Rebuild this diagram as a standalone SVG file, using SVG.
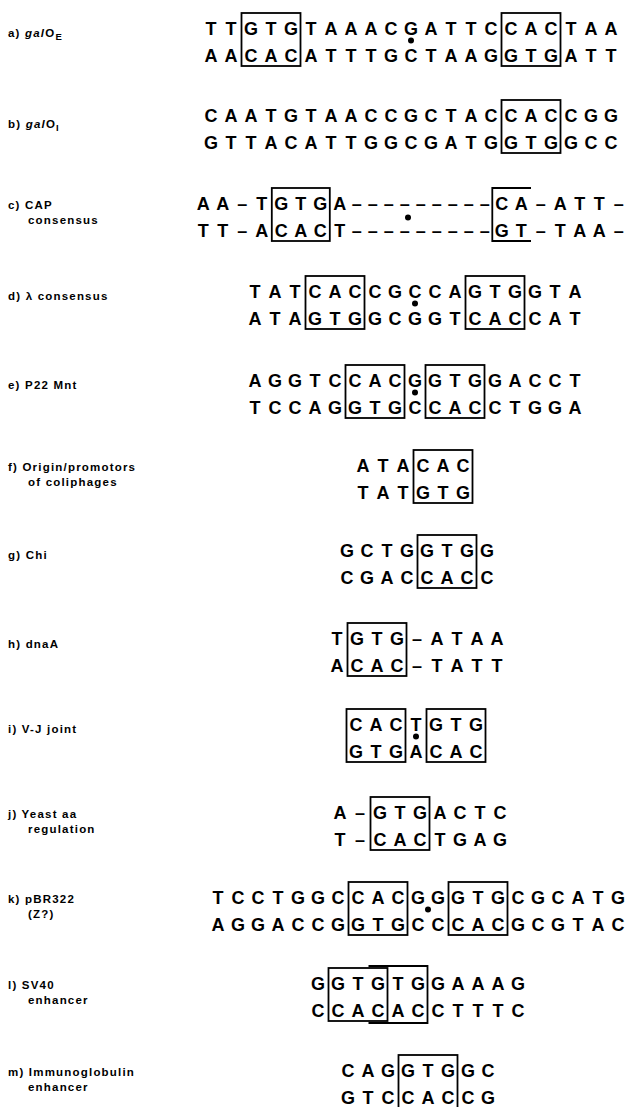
<svg xmlns="http://www.w3.org/2000/svg" width="635" height="1107" viewBox="0 0 635 1107">
<style>
.seq{font-family:"Liberation Sans",Arial,sans-serif;font-weight:bold;font-size:18px;text-anchor:middle;fill:#000}
.lbl{font-family:"Liberation Sans",Arial,sans-serif;font-weight:bold;font-size:11.5px;letter-spacing:1.2px;fill:#000}
.box{fill:none;stroke:#000;stroke-width:1.8}
.dot{fill:#000}
</style>
<rect width="635" height="1107" fill="#fff"/>
<g id="row-a">
<text class="lbl" x="8" y="37">a) <tspan font-style="italic">gal</tspan>O<tspan font-size="9.5" dy="3">E</tspan></text>
<text class="seq" x="211 231 251 271 291 311 331 351 371 391 411 431 451 471 491 511 531 551 571 591 611" y="34.5">TTGTGTAAACGATTCCACTAA</text>
<text class="seq" x="211 231 251 271 291 311 331 351 371 391 411 431 451 471 491 511 531 551 571 591 611" y="61.5">AACACATTTGCTAAGGTGATT</text>
<rect class="box" x="241.5" y="13" width="59" height="53"/>
<rect class="box" x="501.5" y="13" width="59" height="53"/>
<circle class="dot" cx="411" cy="40.5" r="3"/>
</g>
<g id="row-b">
<text class="lbl" x="8" y="128">b) <tspan font-style="italic">gal</tspan>O<tspan font-size="9.5" dy="3">I</tspan></text>
<text class="seq" x="211 231 251 271 291 311 331 351 371 391 411 431 451 471 491 511 531 551 571 591 611" y="121.5">CAATGTAACCGCTACCACCGG</text>
<text class="seq" x="211 231 251 271 291 311 331 351 371 391 411 431 451 471 491 511 531 551 571 591 611" y="148.5">GTTACATTGGCGATGGTGGCC</text>
<rect class="box" x="501.5" y="100" width="59" height="53"/>
</g>
<g id="row-c">
<text class="lbl" x="8" y="209">c) CAP</text>
<text class="lbl" x="28" y="224">consensus</text>
<text class="seq" x="203.3 222.8 242.3 261.8 281.3 300.8 320.3 339.8 356.8 372.8 388.8 404.8 420.8 436.8 452.8 468.8 484.8 501.8 521.3 540.8 560.3 579.8 599.3 618.8" y="209.5">AA–TGTGA–––––––––CA–ATT–</text>
<text class="seq" x="203.3 222.8 242.3 261.8 281.3 300.8 320.3 339.8 356.8 372.8 388.8 404.8 420.8 436.8 452.8 468.8 484.8 501.8 521.3 540.8 560.3 579.8 599.3 618.8" y="236.5">TT–ACACT–––––––––GT–TAA–</text>
<rect class="box" x="271.8" y="188" width="58" height="53"/>
<path class="box" d="M531 188H492.3V241H531"/>
<circle class="dot" cx="408" cy="217.5" r="3"/>
</g>
<g id="row-d">
<text class="lbl" x="8" y="300">d) λ consensus</text>
<text class="seq" x="255 275 295 315 335 355 375 395 415 435 455 475 495 515 535 555 575" y="297.5">TATCACCGCCAGTGGTA</text>
<text class="seq" x="255 275 295 315 335 355 375 395 415 435 455 475 495 515 535 555 575" y="324.5">ATAGTGGCGGTCACCAT</text>
<rect class="box" x="305.5" y="276" width="59" height="53"/>
<rect class="box" x="465.5" y="276" width="59" height="53"/>
<circle class="dot" cx="415" cy="303.5" r="3"/>
</g>
<g id="row-e">
<text class="lbl" x="8" y="389">e) P22 Mnt</text>
<text class="seq" x="255 275 295 315 335 355 375 395 415 435 455 475 495 515 535 555 575" y="386.5">AGGTCCACGGTGGACCT</text>
<text class="seq" x="255 275 295 315 335 355 375 395 415 435 455 475 495 515 535 555 575" y="413.5">TCCAGGTGCCACCTGGA</text>
<rect class="box" x="345.5" y="365" width="59" height="53"/>
<rect class="box" x="425.5" y="365" width="59" height="53"/>
<circle class="dot" cx="415" cy="392.5" r="3"/>
</g>
<g id="row-f">
<text class="lbl" x="8" y="471">f) Origin/promotors</text>
<text class="lbl" x="28" y="486">of coliphages</text>
<text class="seq" x="363 383 403 423 443 463" y="471.5">ATACAC</text>
<text class="seq" x="363 383 403 423 443 463" y="498.5">TATGTG</text>
<rect class="box" x="413.5" y="450" width="59" height="53"/>
</g>
<g id="row-g">
<text class="lbl" x="8" y="559">g) Chi</text>
<text class="seq" x="347 367 387 407 427 447 467 487" y="556.5">GCTGGTGG</text>
<text class="seq" x="347 367 387 407 427 447 467 487" y="583.5">CGACCACC</text>
<rect class="box" x="417.5" y="535" width="59" height="53"/>
</g>
<g id="row-h">
<text class="lbl" x="8" y="648">h) dnaA</text>
<text class="seq" x="337 357 377 397 417 437 457 477 497" y="644.5">TGTG–ATAA</text>
<text class="seq" x="337 357 377 397 417 437 457 477 497" y="671.5">ACAC–TATT</text>
<rect class="box" x="347.5" y="623" width="59" height="53"/>
</g>
<g id="row-i">
<text class="lbl" x="8" y="733">i) V-J joint</text>
<text class="seq" x="356 376 396 416 436 456 476" y="730.5">CACTGTG</text>
<text class="seq" x="356 376 396 416 436 456 476" y="757.5">GTGACAC</text>
<rect class="box" x="346.5" y="709" width="59" height="53"/>
<rect class="box" x="426.5" y="709" width="59" height="53"/>
<circle class="dot" cx="416" cy="736.5" r="3"/>
</g>
<g id="row-j">
<text class="lbl" x="8" y="818">j) Yeast aa</text>
<text class="lbl" x="28" y="833">regulation</text>
<text class="seq" x="340 360 380 400 420 440 460 480 500" y="818.5">A–GTGACTC</text>
<text class="seq" x="340 360 380 400 420 440 460 480 500" y="845.5">T–CACTGAG</text>
<rect class="box" x="370.5" y="797" width="59" height="53"/>
</g>
<g id="row-k">
<text class="lbl" x="8" y="903">k) pBR322</text>
<text class="lbl" x="28" y="918">(Z?)</text>
<text class="seq" x="218 238 258 278 298 318 338 358 378 398 418 438 458 478 498 518 538 558 578 598 618" y="903.5">TCCTGGCCACGGGTGCGCATG</text>
<text class="seq" x="218 238 258 278 298 318 338 358 378 398 418 438 458 478 498 518 538 558 578 598 618" y="930.5">AGGACCGGTGCCCACGCGTAC</text>
<rect class="box" x="348.5" y="882" width="59" height="53"/>
<rect class="box" x="448.5" y="882" width="59" height="53"/>
<circle class="dot" cx="428" cy="909.5" r="3"/>
</g>
<g id="row-l">
<text class="lbl" x="8" y="989">l) SV40</text>
<text class="lbl" x="28" y="1004">enhancer</text>
<text class="seq" x="318 338 358 378 398 418 438 458 478 498 518" y="989.5">GGTGTGGAAAG</text>
<text class="seq" x="318 338 358 378 398 418 438 458 478 498 518" y="1016.5">CCACACCTTTC</text>
<rect class="box" x="328.5" y="968" width="59" height="53"/>
<path class="box" d="M368.5 966H427.5V1023H368.5"/>
</g>
<g id="row-m">
<text class="lbl" x="8" y="1076">m) Immunoglobulin</text>
<text class="lbl" x="28" y="1091">enhancer</text>
<text class="seq" x="348 368 388 408 428 448 468 488" y="1076.5">CAGGTGGC</text>
<text class="seq" x="348 368 388 408 428 448 468 488" y="1103.5">GTCCACCG</text>
<rect class="box" x="398.5" y="1055" width="59" height="60"/>
</g>
</svg>
